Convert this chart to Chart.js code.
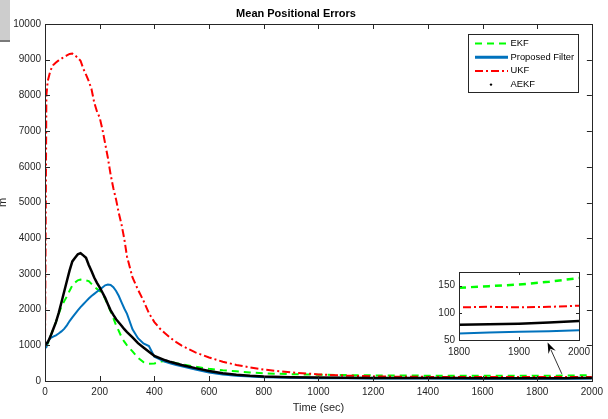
<!DOCTYPE html>
<html>
<head>
<meta charset="utf-8">
<script src="https://cdn.jsdelivr.net/npm/chart.js@4.4.1/dist/chart.umd.min.js"></script>
<style>
  html, body { margin: 0; padding: 0; background: #fff; }
  #wrap { position: relative; width: 608px; height: 419px; }
  #main { position: absolute; left: 0; top: 0; }
  #insetBox { position: absolute; left: 420px; top: 262px; width: 180px; height: 96px; }
  #grayTab { position: absolute; left: 0; top: 0; width: 10px; height: 40px;
             background: #cdcdcd; border-bottom: 2px solid #7a7a7a; }
</style>
</head>
<body>
<div id="wrap">
  <canvas id="main" width="608" height="419"></canvas>
  <div id="insetBox"><canvas id="inset" width="180" height="96"></canvas></div>
  <div id="grayTab"></div>
</div>
<script>
// time axis (sec)
const timeSec = [0, 5, 10, 20, 30, 40, 50, 60, 70, 80, 90, 100, 110, 120, 130, 140, 150, 160, 170, 180,
  190, 200, 210, 220, 230, 240, 250, 260, 270, 280, 290, 300, 320, 340, 360, 380, 400, 420, 440, 460,
  480, 500, 550, 600, 650, 700, 750, 800, 900, 1000, 1100, 1200, 1300, 1400, 1500, 1600, 1700, 1800,
  1850, 1900, 1950, 2000];

// mean positional error per filter
const ekfErr = [950, 980, 1050, 1250, 1450, 1650, 1880, 2080, 2230, 2370, 2530, 2680, 2760, 2820, 2840,
  2830, 2820, 2800, 2720, 2640, 2580, 2520, 2460, 2300, 2120, 1950, 1760, 1560, 1400, 1230, 1100, 1000,
  830, 650, 530, 480, 490, 540, 560, 540, 500, 470, 400, 340, 300, 270, 240, 215, 190, 175, 165, 158,
  153, 150, 148, 147, 146, 146, 149, 152, 157, 164];
const proposedErr = [920, 950, 1100, 1200, 1240, 1280, 1330, 1390, 1460, 1560, 1680, 1780, 1880, 1980,
  2070, 2150, 2230, 2310, 2380, 2440, 2500, 2560, 2620, 2680, 2700, 2690, 2630, 2520, 2380, 2200, 2030,
  1880, 1450, 1200, 1050, 980, 680, 610, 540, 490, 450, 410, 320, 240, 185, 150, 125, 105, 88, 80, 75,
  72, 70, 68, 66, 64, 63, 62, 64, 65, 66, 68];
const ukfErr = [800, 8000, 8400, 8700, 8850, 8920, 8980, 9030, 9080, 9120, 9160, 9170, 9120, 9050, 8970,
  8750, 8580, 8400, 8180, 7800, 7550, 7380, 7050, 6650, 6250, 5780, 5400, 5080, 4700, 4380, 3980, 3480,
  2900, 2560, 2250, 1900, 1650, 1470, 1330, 1200, 1090, 990, 800, 660, 540, 450, 380, 320, 240, 185,
  150, 130, 120, 115, 112, 112, 111, 110, 111, 110, 111, 113];
const aekfErr = [1090, 1050, 1080, 1250, 1450, 1650, 1900, 2200, 2500, 2800, 3100, 3350, 3450, 3550,
  3580, 3520, 3450, 3250, 3080, 2900, 2750, 2620, 2480, 2330, 2150, 1980, 1850, 1730, 1640, 1550, 1450,
  1370, 1220, 1060, 940, 820, 700, 640, 580, 530, 490, 450, 360, 280, 220, 175, 145, 125, 105, 95, 90,
  87, 85, 83, 82, 80, 79, 78, 79, 80, 82, 85];

const seriesNames = ['EKF', 'Proposed Filter', 'UKF', 'AEKF'];

// tick labels
const xTicks = [0, 200, 400, 600, 800, 1000, 1200, 1400, 1600, 1800, 2000];
const yTicks = [0, 1000, 2000, 3000, 4000, 5000, 6000, 7000, 8000, 9000, 10000];
const insetXTicks = [1800, 1900, 2000];
const insetYTicks = [50, 100, 150];

// zoom arrow, in data units of the main axes
const arrowFrom = { x: 1890, y: 200 };
const arrowTo = { x: 1838, y: 1080 };

const AXIS_COLOR = '#262626';
const FONT = 'Arial, "Liberation Sans", Helvetica, sans-serif';

function toXY(vals) {
  return timeSec.map((t, i) => ({ x: t, y: vals[i] }));
}

function makeDatasets(thin) {
  return [
    { label: seriesNames[0], data: toXY(ekfErr), borderColor: '#00ff00', borderWidth: thin ? 2.5 : 2,
      borderDash: [7, 5], order: 4 },
    { label: seriesNames[1], data: toXY(proposedErr), borderColor: '#0072bd', borderWidth: 2, order: 3 },
    { label: seriesNames[2], data: toXY(ukfErr), borderColor: '#ff0000', borderWidth: 2,
      borderDash: [8, 3, 2, 3], order: 2 },
    { label: seriesNames[3], data: toXY(aekfErr), borderColor: '#000000', borderWidth: 2.5, order: 1 }
  ].map(d => Object.assign(d, { pointRadius: 0, tension: 0, fill: false }));
}

// box round the axes with inward tick marks (matlab style)
const boxTicks = {
  id: 'boxTicks',
  beforeDraw(chart, args, opts) {
    const { ctx, chartArea: a } = chart;
    ctx.save();
    ctx.fillStyle = '#fff';
    ctx.fillRect(a.left, a.top, a.right - a.left, a.bottom - a.top);
    ctx.restore();
  },
  afterDraw(chart, args, opts) {
    const { ctx, chartArea: a, scales: { x, y } } = chart;
    const len = opts.len || 5;
    ctx.save();
    ctx.strokeStyle = AXIS_COLOR;
    ctx.lineWidth = 1;
    ctx.beginPath();
    x.ticks.forEach(t => {
      const px = Math.round(x.getPixelForValue(t.value)) + 0.5;
      ctx.moveTo(px, a.bottom); ctx.lineTo(px, a.bottom - len);
      ctx.moveTo(px, a.top); ctx.lineTo(px, a.top + len);
    });
    y.ticks.forEach(t => {
      const py = Math.round(y.getPixelForValue(t.value)) + 0.5;
      ctx.moveTo(a.left, py); ctx.lineTo(a.left + len, py);
      ctx.moveTo(a.right, py); ctx.lineTo(a.right - len, py);
    });
    ctx.stroke();
    ctx.strokeRect(Math.round(a.left) + 0.5, Math.round(a.top) + 0.5,
      Math.round(a.right - a.left), Math.round(a.bottom - a.top));
    ctx.restore();
  }
};

// legend box in the upper right, plus the zoom arrow
const legendBox = {
  id: 'legendBox',
  afterDraw(chart) {
    const { ctx, scales: { x, y } } = chart;
    ctx.save();
    // arrow
    const x0 = x.getPixelForValue(arrowFrom.x), y0 = y.getPixelForValue(arrowFrom.y);
    const x1 = x.getPixelForValue(arrowTo.x), y1 = y.getPixelForValue(arrowTo.y);
    const ang = Math.atan2(y1 - y0, x1 - x0);
    ctx.strokeStyle = '#000';
    ctx.lineWidth = 0.8;
    ctx.beginPath(); ctx.moveTo(x0, y0);
    ctx.lineTo(x1 - 8 * Math.cos(ang), y1 - 8 * Math.sin(ang)); ctx.stroke();
    ctx.fillStyle = '#000';
    ctx.beginPath();
    ctx.moveTo(x1, y1);
    ctx.lineTo(x1 - 11 * Math.cos(ang) + 4 * Math.sin(ang), y1 - 11 * Math.sin(ang) - 4 * Math.cos(ang));
    ctx.lineTo(x1 - 7 * Math.cos(ang), y1 - 7 * Math.sin(ang));
    ctx.lineTo(x1 - 11 * Math.cos(ang) - 4 * Math.sin(ang), y1 - 11 * Math.sin(ang) + 4 * Math.cos(ang));
    ctx.closePath(); ctx.fill();

    // legend
    const bx = 468.5, by = 34.5, bw = 110, bh = 58;
    ctx.fillStyle = '#fff';
    ctx.fillRect(bx, by, bw, bh);
    ctx.strokeStyle = AXIS_COLOR;
    ctx.lineWidth = 1;
    ctx.strokeRect(bx, by, bw, bh);
    ctx.font = '9.4px ' + FONT;
    ctx.textBaseline = 'middle';
    chart.data.datasets.forEach((ds, i) => {
      const ly = 43.5 + i * 13.7;
      if (i === 3) {
        ctx.fillStyle = '#000';
        ctx.beginPath(); ctx.arc(491, ly, 1.2, 0, Math.PI * 2); ctx.fill();
      } else {
        ctx.strokeStyle = ds.borderColor;
        ctx.lineWidth = i === 1 ? 3 : 2;
        ctx.setLineDash(ds.borderDash || []);
        ctx.beginPath(); ctx.moveTo(475, ly); ctx.lineTo(508, ly); ctx.stroke();
        ctx.setLineDash([]);
      }
      ctx.fillStyle = '#000';
      ctx.fillText(ds.label, 510.5, ly);
    });
    ctx.restore();
  }
};

function fixedTicks(list) {
  return scale => { scale.ticks = list.map(v => ({ value: v })); };
}

const plainLabel = v => String(v);

new Chart(document.getElementById('main'), {
  type: 'line',
  data: { datasets: makeDatasets(false) },
  options: {
    responsive: false,
    animation: false,
    events: [],
    layout: { padding: { left: 0, right: 16, top: 0, bottom: 0 } },
    plugins: {
      legend: { display: false },
      tooltip: { enabled: false },
      title: {
        display: true,
        text: 'Mean Positional Errors',
        color: '#000',
        font: { family: FONT, size: 11, weight: 'bold' },
        padding: { top: 7, bottom: 3.8 }
      },
      boxTicks: { len: 5 }
    },
    scales: {
      x: {
        type: 'linear', min: 0, max: 2000,
        afterBuildTicks: fixedTicks(xTicks),
        afterFit: s => { s.height = 38; },
        grid: { display: false, drawTicks: false },
        border: { display: false },
        ticks: { color: AXIS_COLOR, padding: 5, maxRotation: 0, autoSkip: false,
                 font: { family: FONT, size: 10 }, callback: plainLabel },
        title: { display: true, text: 'Time (sec)', color: AXIS_COLOR,
                 font: { family: FONT, size: 11 }, padding: { top: 0, bottom: 4.4 } }
      },
      y: {
        type: 'linear', min: 0, max: 10000,
        afterBuildTicks: fixedTicks(yTicks),
        afterFit: s => { s.width = 45; },
        grid: { display: false, drawTicks: false },
        border: { display: false },
        ticks: { color: AXIS_COLOR, padding: 4, autoSkip: false,
                 font: { family: FONT, size: 10 }, callback: plainLabel },
        title: { display: true, text: 'm', color: AXIS_COLOR,
                 font: { family: FONT, size: 11, lineHeight: 0.6 }, padding: 0 }
      }
    }
  },
  plugins: [boxTicks, legendBox]
});

// zoomed inset 1800-2000 s
new Chart(document.getElementById('inset'), {
  type: 'line',
  data: { datasets: makeDatasets(true) },
  options: {
    responsive: false,
    animation: false,
    events: [],
    layout: { padding: { left: 0, right: 21, top: 7, bottom: 0 } },
    plugins: {
      legend: { display: false },
      tooltip: { enabled: false },
      boxTicks: { len: 3 }
    },
    scales: {
      x: {
        type: 'linear', min: 1800, max: 2000,
        afterBuildTicks: fixedTicks(insetXTicks),
        afterFit: s => { s.height = 18; },
        grid: { display: false, drawTicks: false },
        border: { display: false },
        ticks: { color: AXIS_COLOR, padding: 6, maxRotation: 0, autoSkip: false,
                 font: { family: FONT, size: 10 }, callback: plainLabel }
      },
      y: {
        type: 'linear', min: 50, max: 175,
        afterBuildTicks: fixedTicks(insetYTicks),
        afterFit: s => { s.width = 39; },
        grid: { display: false, drawTicks: false },
        border: { display: false },
        ticks: { color: AXIS_COLOR, padding: 4, autoSkip: false,
                 font: { family: FONT, size: 10 }, callback: plainLabel }
      }
    }
  },
  plugins: [boxTicks]
});
</script>
</body>
</html>
